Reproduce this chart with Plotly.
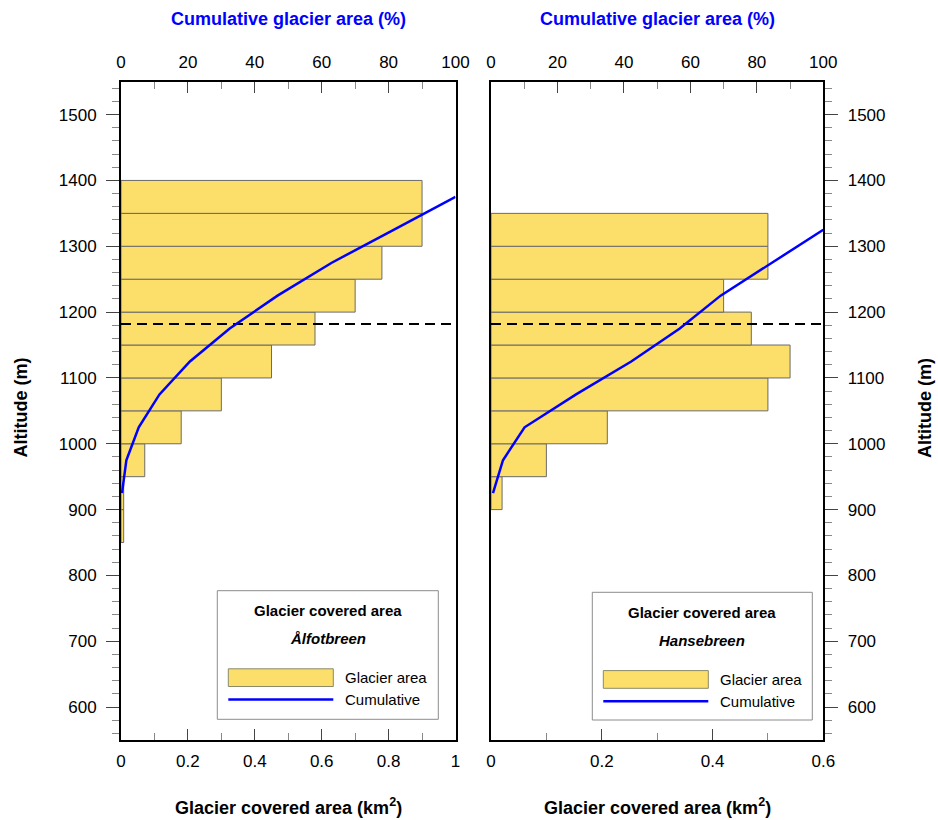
import plotly.graph_objects as go

W, H = 938, 820

# ---------------- data ----------------
alf_bin_mid = [875, 925, 975, 1025, 1075, 1125, 1175, 1225, 1275, 1325, 1375]
alf_area = [0.008, 0.008, 0.071, 0.18, 0.30, 0.45, 0.58, 0.70, 0.78, 0.90, 0.90]
alf_cum_alt = [925, 975, 1025, 1075, 1125, 1175, 1225, 1275, 1325, 1375]
alf_cum_pct = [0.3, 1.6, 5.3, 11.5, 20.6, 32.5, 46.8, 63.0, 81.5, 100.0]

han_bin_mid = [925, 975, 1025, 1075, 1125, 1175, 1225, 1275, 1325]
han_area = [0.02, 0.10, 0.21, 0.50, 0.54, 0.47, 0.42, 0.50, 0.50]
han_cum_alt = [925, 975, 1025, 1075, 1125, 1175, 1225, 1275, 1325]
han_cum_pct = [0.6, 3.6, 10.1, 25.6, 42.2, 56.8, 69.1, 84.5, 100.0]

ela_alt = [1182, 1182]
bin_width = 50

glacier_names = ["Ålfotbreen", "Hansebreen"]
legend_title = "Glacier covered area"
legend_labels = ["Glacier area", "Cumulative"]
top_title = "Cumulative glacier area (%)"
bottom_title = "Glacier covered area (km<sup>2</sup>)"
y_title = "Altitude (m)"

# ---------------- style ----------------
FONT = "Liberation Sans, Arial, sans-serif"
BAR_FILL = "#FCDE6A"
BAR_EDGE = "#6b6b6b"
BLUE = "#0000FF"


def px(x):
    return x / W


def py(y):
    return 1 - y / H


# plot area in pixels
L_X0, L_X1 = 121.0, 455.5
R_X0, R_X1 = 491.0, 823.3
Y_TOP, Y_BOT = 81.7, 740.0

fig = go.Figure()

bar_style = dict(orientation="h", width=bin_width,
                 marker=dict(color=BAR_FILL, line=dict(color=BAR_EDGE, width=1)),
                 showlegend=False, hoverinfo="skip")

fig.add_trace(go.Bar(y=alf_bin_mid, x=alf_area, xaxis="x", yaxis="y", **bar_style))
fig.add_trace(go.Bar(y=han_bin_mid, x=han_area, xaxis="x2", yaxis="y2", **bar_style))

# ELA dashed lines across each panel
fig.add_trace(go.Scatter(x=[0, 1], y=ela_alt, xaxis="x", yaxis="y", mode="lines",
                         line=dict(color="black", width=2, dash="10px,6px"),
                         showlegend=False, hoverinfo="skip"))
fig.add_trace(go.Scatter(x=[0, 0.6], y=ela_alt, xaxis="x2", yaxis="y2", mode="lines",
                         line=dict(color="black", width=2, dash="10px,6px"),
                         showlegend=False, hoverinfo="skip"))

# cumulative curves on top (percent) axes
fig.add_trace(go.Scatter(x=alf_cum_pct, y=alf_cum_alt, xaxis="x3", yaxis="y", mode="lines",
                         line=dict(color=BLUE, width=2.5), showlegend=False))
fig.add_trace(go.Scatter(x=han_cum_pct, y=han_cum_alt, xaxis="x4", yaxis="y2", mode="lines",
                         line=dict(color=BLUE, width=2.5), showlegend=False))

tickfont = dict(family=FONT, size=17, color="black")
common = dict(showgrid=False, zeroline=False, showline=True, linecolor="black",
              linewidth=2, tickfont=tickfont, tickcolor="#444", tickwidth=1)

ydom = [py(Y_BOT), py(Y_TOP)]

layout_axes = dict(
    xaxis=dict(domain=[px(L_X0), px(L_X1)], range=[0, 1], dtick=0.2, tick0=0,
               anchor="y", side="bottom", ticks="inside", ticklen=11,
               minor=dict(dtick=0.1, ticks="inside", ticklen=7, tickcolor="#888"),
               ticklabelstandoff=5, **common),
    xaxis2=dict(domain=[px(R_X0), px(R_X1)], range=[0, 0.6], dtick=0.2, tick0=0,
                anchor="y2", side="bottom", ticks="inside", ticklen=11,
                minor=dict(dtick=0.1, ticks="inside", ticklen=7, tickcolor="#888"),
                ticklabelstandoff=5, **common),
    xaxis3=dict(overlaying="x", range=[0, 100], dtick=20, tick0=0, anchor="y",
                side="top", ticks="inside", ticklen=11,
                minor=dict(dtick=10, ticks="inside", ticklen=7, tickcolor="#888"),
                ticklabelstandoff=5, **common),
    xaxis4=dict(overlaying="x2", range=[0, 100], dtick=20, tick0=0, anchor="y2",
                side="top", ticks="inside", ticklen=11,
                minor=dict(dtick=10, ticks="inside", ticklen=7, tickcolor="#888"),
                ticklabelstandoff=5, **common),
    yaxis=dict(domain=ydom, range=[550, 1550], dtick=100, tick0=0, anchor="x",
               side="left", ticks="outside", ticklen=13, mirror=True,
               minor=dict(dtick=20, ticks="outside", ticklen=7, tickcolor="#888"),
               ticklabelstandoff=6, **common),
    yaxis2=dict(domain=ydom, range=[550, 1550], dtick=100, tick0=0, anchor="x2",
                side="right", ticks="outside", ticklen=13, mirror=True,
                minor=dict(dtick=20, ticks="outside", ticklen=7, tickcolor="#888"),
                ticklabelstandoff=6, **common),
)

annotations = []
shapes = []

title_font = dict(family=FONT, size=18, color="black")
for cx in [(L_X0 + L_X1) / 2, (R_X0 + R_X1) / 2]:
    annotations.append(dict(x=px(cx), y=py(18.5), xref="paper", yref="paper",
                            text="<b>" + top_title + "</b>", showarrow=False,
                            font=dict(family=FONT, size=18, color=BLUE),
                            xanchor="center", yanchor="middle"))
    annotations.append(dict(x=px(cx), y=py(806), xref="paper", yref="paper",
                            text="<b>" + bottom_title + "</b>", showarrow=False,
                            font=title_font, xanchor="center", yanchor="middle"))
for cx in [20.5, 925]:
    annotations.append(dict(x=px(cx), y=py(408), xref="paper", yref="paper",
                            text="<b>" + y_title + "</b>", showarrow=False,
                            font=title_font, textangle=-90,
                            xanchor="center", yanchor="middle"))

# hand-drawn legend boxes (one per panel)
legend_boxes = [
    dict(x0=217.3, x1=438.3, y0=590.7, y1=719.3, name=glacier_names[0], dy=0.0),
    dict(x0=592.3, x1=812.3, y0=592.3, y1=720.0, name=glacier_names[1], dy=1.8),
]
for b in legend_boxes:
    dy = b["dy"]
    cx = (b["x0"] + b["x1"]) / 2
    shapes.append(dict(type="rect", xref="paper", yref="paper",
                       x0=px(b["x0"]), x1=px(b["x1"]), y0=py(b["y1"]), y1=py(b["y0"]),
                       line=dict(color="#8c8c8c", width=1), fillcolor="white"))
    annotations.append(dict(x=px(cx), y=py(610.7 + dy), xref="paper", yref="paper",
                            text="<b>" + legend_title + "</b>", showarrow=False,
                            font=dict(family=FONT, size=15, color="black"),
                            xanchor="center", yanchor="middle"))
    annotations.append(dict(x=px(cx), y=py(638.5 + dy), xref="paper", yref="paper",
                            text="<b><i>" + b["name"] + "</i></b>", showarrow=False,
                            font=dict(family=FONT, size=15, color="black"),
                            xanchor="center", yanchor="middle"))
    sx0 = b["x0"] + 11
    sx1 = sx0 + 105
    shapes.append(dict(type="rect", xref="paper", yref="paper",
                       x0=px(sx0), x1=px(sx1), y0=py(686.5 + dy), y1=py(668.8 + dy),
                       line=dict(color="#8a8a6a", width=1), fillcolor=BAR_FILL))
    shapes.append(dict(type="line", xref="paper", yref="paper",
                       x0=px(sx0), x1=px(sx1), y0=py(699.5 + dy), y1=py(699.5 + dy),
                       line=dict(color=BLUE, width=2.5)))
    annotations.append(dict(x=px(sx1 + 10), y=py(677.5 + dy), xref="paper", yref="paper",
                            text=legend_labels[0], showarrow=False,
                            font=dict(family=FONT, size=15, color="black"),
                            xanchor="left", yanchor="middle"))
    annotations.append(dict(x=px(sx1 + 10), y=py(699.5 + dy), xref="paper", yref="paper",
                            text=legend_labels[1], showarrow=False,
                            font=dict(family=FONT, size=15, color="black"),
                            xanchor="left", yanchor="middle"))

fig.update_layout(
    width=W, height=H,
    margin=dict(l=0, r=0, t=0, b=0, autoexpand=False),
    paper_bgcolor="white", plot_bgcolor="white",
    showlegend=False,
    barmode="overlay",
    font=dict(family=FONT, color="black"),
    annotations=annotations,
    shapes=shapes,
    **layout_axes,
)

fig.write_html("out.html")
